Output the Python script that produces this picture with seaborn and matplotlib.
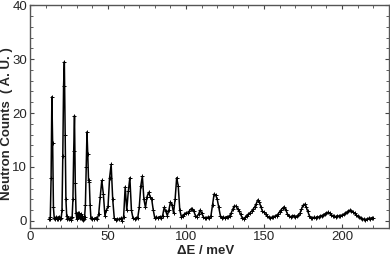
#!/usr/bin/env python3

import numpy as np
import pandas as pd
import matplotlib
matplotlib.use("Agg")
import matplotlib.pyplot as plt
from matplotlib.ticker import MultipleLocator
import seaborn as sns

# Energy transfer grid (meV): finer steps below 40 meV, 1 meV steps above
energy_fine = np.arange(12.0, 40.5, 0.5)
energy_coarse = np.arange(41.0, 221.0, 1.0)

counts_fine = [
    0.3, 0.4, 0.8, 8.0, 23.0, 14.5, 2.5, 0.6, 0.4, 0.7,
    0.3, 0.6, 0.4, 0.8, 0.5, 0.3, 0.6, 2.0, 12.0, 25.0,
    29.5, 16.0, 4.0, 1.0, 0.4, 0.6, 0.3, 0.5, 0.2, 0.5,
    0.8, 4.0, 13.0, 19.5, 7.0, 1.5, 0.4, 1.5, 0.7, 1.4,
    0.5, 1.2, 0.4, 1.0, 0.2, 0.3, 0.8, 3.0, 10.0, 16.5,
    12.5, 7.5, 7.2, 3.0, 0.6, 0.3, 0.5,
]

counts_coarse = [
    # 41 - 60
    0.3, 0.6, 0.4, 1.2, 4.5, 7.5, 5.0, 1.0, 2.0, 2.7,
    8.0, 10.5, 4.0, 0.5, 0.2, 0.4, 0.3, 0.5, 0.0, 0.8,
    # 61 - 80
    6.3, 2.0, 5.5, 8.0, 2.0, 0.5, 0.4, 0.6, 0.5, 2.5,
    6.5, 8.3, 4.0, 2.5, 4.5, 5.3, 4.5, 4.0, 2.0, 0.5,
    # 81 - 100
    0.7, 0.6, 0.8, 0.6, 1.0, 2.5, 1.8, 1.0, 2.0, 3.5,
    3.0, 1.5, 4.0, 8.0, 6.5, 2.0, 0.8, 1.0, 1.3, 1.5,
    # 101 - 120
    1.4, 1.8, 2.2, 2.3, 1.8, 1.0, 0.8, 1.2, 2.0, 1.5,
    0.8, 0.5, 0.6, 0.7, 0.5, 1.0, 3.0, 5.0, 4.8, 4.0,
    # 121 - 140
    2.5, 1.0, 0.6, 0.7, 0.6, 0.8, 0.7, 1.0, 1.5, 2.2,
    2.8, 2.7, 2.3, 1.8, 1.2, 0.6, 0.4, 0.7, 1.0, 1.3,
    # 141 - 160
    1.5, 1.8, 2.2, 2.6, 3.2, 3.9, 3.5, 2.6, 1.8, 1.6,
    1.2, 0.9, 0.7, 0.6, 0.7, 0.8, 0.9, 1.0, 1.3, 1.7,
    # 161 - 180
    2.1, 2.4, 2.6, 2.0, 1.3, 0.9, 0.8, 0.9, 1.0, 0.8,
    0.9, 1.1, 1.4, 2.2, 2.9, 3.1, 2.6, 1.8, 1.0, 0.6,
    # 181 - 200
    0.5, 0.7, 0.6, 0.8, 0.7, 0.9, 1.0, 1.1, 1.3, 1.5,
    1.6, 1.4, 1.1, 1.0, 0.9, 0.8, 1.0, 0.9, 1.0, 1.1,
    # 201 - 220
    1.2, 1.4, 1.6, 1.8, 2.0, 1.9, 1.7, 1.4, 1.1, 0.9,
    0.7, 0.6, 0.4, 0.3, 0.2, 0.4, 0.5, 0.4, 0.6, 0.6,
]

df = pd.DataFrame({
    "energy": np.concatenate([energy_fine, energy_coarse]),
    "counts": np.concatenate([counts_fine, counts_coarse]),
})

sns.set_style("ticks")
plt.rcParams["font.family"] = ["Liberation Sans", "DejaVu Sans"]

fig = plt.figure(figsize=(3.9, 2.57), dpi=100)
ax = fig.add_axes([0.077, 0.113, 0.92, 0.867])

sns.lineplot(data=df, x="energy", y="counts", ax=ax, color="black",
             linewidth=1.1, marker="+", markersize=3.5,
             markeredgewidth=0.7, markeredgecolor="black")

ax.set_xlim(0, 230)
ax.set_ylim(-1.3, 40)
ax.xaxis.set_major_locator(MultipleLocator(50))
ax.xaxis.set_minor_locator(MultipleLocator(10))
ax.yaxis.set_major_locator(MultipleLocator(10))
ax.yaxis.set_minor_locator(MultipleLocator(2))
ax.tick_params(which="both", direction="in", top=True, right=True,
               color="#444444", labelsize=9.5, pad=2)
ax.tick_params(which="major", length=3, width=0.8)
ax.tick_params(which="minor", length=2, width=0.6)
for s in ax.spines.values():
    s.set_color("#555555")
    s.set_linewidth(1.0)

ax.set_xlabel("\u0394E / meV", fontsize=9.5, fontweight="bold")
ax.set_ylabel("Neutron Counts  ( A. U. )", fontsize=9.5, fontweight="bold")
ax.xaxis.set_label_coords(0.49, -0.075)
ax.yaxis.set_label_coords(-0.048, 0.47)

fig.savefig("out.png", dpi=100)
